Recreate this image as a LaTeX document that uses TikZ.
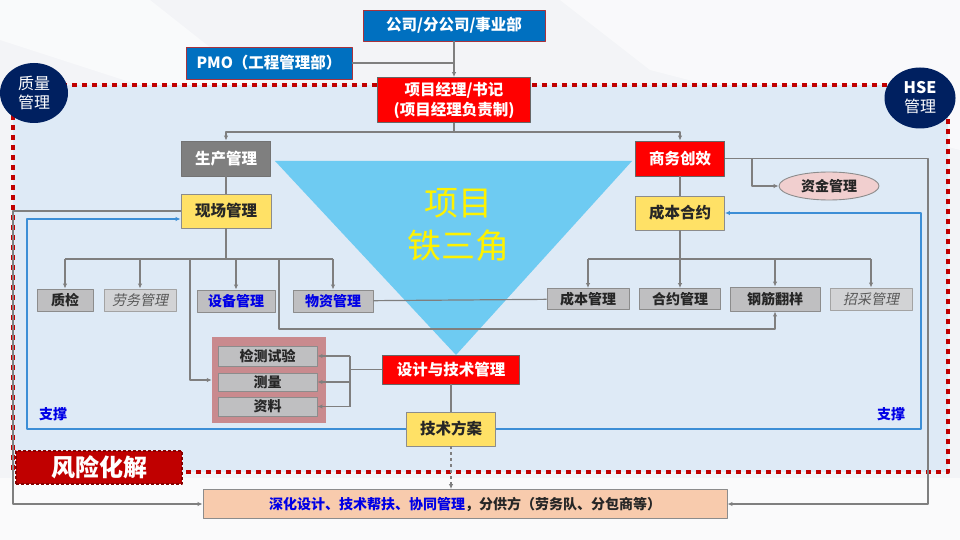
\documentclass[tikz,border=0pt]{standalone}
\usepackage{fontspec}
\setmainfont{Noto Sans CJK SC}[AutoFakeSlant=0.2]
\usetikzlibrary{arrows.meta,shapes.geometric}
\definecolor{pagebg}{HTML}{F3F4F7}
\definecolor{panel}{HTML}{DEEAF6}
\definecolor{riskred}{HTML}{C00000}
\definecolor{corpblue}{HTML}{0070C0}
\definecolor{corprim}{HTML}{A8323C}
\definecolor{hotred}{HTML}{FF0000}
\definecolor{headgrey}{HTML}{7F7F7F}
\definecolor{signal}{HTML}{FFE166}
\definecolor{cell}{HTML}{BFBFC1}
\definecolor{softcell}{HTML}{D2D3D5}
\definecolor{rim}{HTML}{8C8C8C}
\definecolor{wire}{HTML}{7F7F7F}
\definecolor{frame}{HTML}{3C8ED6}
\definecolor{ink}{HTML}{262626}
\definecolor{navy}{HTML}{002060}
\definecolor{wedge}{HTML}{6ECBF2}
\definecolor{rose}{HTML}{C98A8E}
\definecolor{blush}{HTML}{F1CFCF}
\definecolor{peach}{HTML}{F8CBAD}
\definecolor{txtblue}{HTML}{0000E6}
\begin{document}
\begin{tikzpicture}[x=1pt,y=-1pt,line join=round,
  box/.style={inner sep=0pt,align=center,line width=.9pt,text=ink,
    font=\fontsize{14}{17}\selectfont\bfseries},
  corp/.style={box,fill=corpblue,draw=corprim,text=white,font=\fontsize{15.5}{18}\selectfont\bfseries},
  alarm/.style={box,fill=hotred,draw=black!60,text=white,font=\fontsize{15.5}{20}\selectfont\bfseries},
  head/.style={box,fill=headgrey,draw=black!55,text=white,font=\fontsize{15.5}{18}\selectfont\bfseries},
  key/.style={box,fill=signal,draw=rim,font=\fontsize{15.5}{18}\selectfont\bfseries},
  cellbox/.style={box,fill=cell,draw=rim},
  soft/.style={box,fill=softcell,draw=rim!80,text=black!65,font=\fontsize{14}{17}\selectfont\itshape},
  badge/.style={ellipse,inner sep=0pt,fill=navy,text=white,align=center,font=\fontsize{16}{19}\selectfont},
  link/.style={draw=wire,line width=1.2pt},
  arr/.style={link,-{Latex[length=5pt,width=4.5pt]}},
  barr/.style={draw=frame,line width=1.2pt,-{Latex[length=5pt,width=4.5pt]}}]
  % page and panel
  \fill[pagebg] (0,0) rectangle (960,540);
  \fill[white,opacity=.55] (0,0) -- (150,0) -- (340,150) -- (0,40) -- cycle;
  \fill[white,opacity=.5] (560,0) -- (960,0) -- (960,150) -- (650,70) -- cycle;
  \fill[white,opacity=.6] (0,478) -- (960,478) -- (960,540) -- (0,540) -- cycle;
  \fill[panel] (13,85) rectangle (948,472);
  \fill[wedge] (275,161) -- (632,161) -- (456,355) -- cycle;
  \draw[riskred,line width=4.5pt,dash pattern=on 5pt off 5pt] (13,85) rectangle (948,472);
  % top
  \node[corp,minimum width=182,minimum height=31] (co) at (454,25.5) {公司/分公司/事业部};
  \node[corp,minimum width=166,minimum height=32] (pmo) at (269,63) {PMO（工程管理部）};
  \node[alarm,minimum width=153,minimum height=45] (pm) at (454,100) {项目经理/书记\\(项目经理负责制)};
  \node[head,minimum width=89,minimum height=35] (prod) at (226,158.5) {生产管理};
  \node[alarm,minimum width=89,minimum height=35] (biz) at (680,158.5) {商务创效};
  \node[key,minimum width=90,minimum height=34] (site) at (226,211) {现场管理};
  \node[key,minimum width=89,minimum height=34] (cost) at (680,213) {成本合约};
  \node[box,ellipse,fill=blush,draw=rim,minimum width=100,minimum height=28] (fund) at (829,186) {资金管理};
  % left row
  \node[cellbox,minimum width=56,minimum height=22] (qc) at (65,300) {质检};
  \node[soft,minimum width=72,minimum height=22] (lab) at (140,300) {劳务管理};
  \node[cellbox,text=txtblue,minimum width=78,minimum height=22] (eq) at (236,301) {设备管理};
  \node[cellbox,text=txtblue,minimum width=80,minimum height=22] (mat) at (333,301) {物资管理};
  % right row
  \node[cellbox,minimum width=82,minimum height=21] (cm) at (588,299) {成本管理};
  \node[cellbox,minimum width=81,minimum height=21] (ct) at (680,299) {合约管理};
  \node[cellbox,minimum width=90,minimum height=24] (reb) at (775,299) {钢筋翻样};
  \node[soft,minimum width=82,minimum height=22] (buy) at (871,299) {招采管理};
  % design
  \node[alarm,minimum width=137,minimum height=29] (tech) at (451,369.5) {设计与技术管理};
  \node[key,minimum width=89,minimum height=34] (plan) at (451,429) {技术方案};
  \node[fill=rose,inner sep=0pt,minimum width=114,minimum height=86] (grp) at (269,380) {};
  \node[cellbox,minimum width=99,minimum height=20] (test) at (267.5,356) {检测试验};
  \node[cellbox,minimum width=99,minimum height=18] (srv) at (267.5,382) {测量};
  \node[cellbox,minimum width=99,minimum height=19] (doc) at (267.5,406.5) {资料};
  % bottom
  \node[box,fill=peach,draw=rim,minimum width=524,minimum height=29] (sub) at (465,504)
    {\textcolor{txtblue}{深化设计、技术帮扶、协同管理}，分供方（劳务队、分包商等）};
  \node[box,fill=riskred,draw=riskred!70!black,dash pattern=on 3pt off 2pt,line width=2.5pt,
    text=white,font=\fontsize{24}{28}\selectfont\bfseries,minimum width=166,minimum height=33] (risk) at (99,467.5) {风险化解};
  \node[badge,minimum width=68,minimum height=60] (qm) at (34,93) {质量\\管理};
  \node[badge,minimum width=71,minimum height=61] (hse) at (920,98) {\textbf{HSE}\\管理};
  \node[text=yellow,align=center,font=\fontsize{34}{43}\selectfont] (core) at (458,225) {项目\\铁三角};
  \node[text=txtblue,font=\fontsize{14}{17}\selectfont\bfseries] (propl) at (53,414) {支撑};
  \node[text=txtblue,font=\fontsize{14}{17}\selectfont\bfseries] (propr) at (891,414) {支撑};
  % connectors
  \coordinate (pmfork) at (454,132);
  \coordinate (fk) at (752,158.5);
  \coordinate (rdrop) at (928,504);
  \coordinate (ldrop) at (13,504);
  \coordinate (bl) at (27,429);
  \coordinate (br) at (921,429);
  \coordinate (sfork) at (226,259);
  \coordinate (gk) at (190,259);
  \coordinate (rk) at (279,259);
  \coordinate (rlow) at (279,329);
  \coordinate (cfork) at (680,259);
  \coordinate (tk) at (350,369.5);
  \draw[arr] (co) -- (pm);
  \draw[link] (pmo) -- (pmo -| co);
  \draw[link] (pm) -- (pmfork);
  \draw[arr] (pmfork) -| (prod);
  \draw[arr] (pmfork) -| (biz);
  \draw[link] (prod) -- (site);
  \draw[link] (biz) -- (cost);
  \draw[arr] (biz.east) -| (rdrop) -- (sub.east);
  \draw[arr] (fk) |- (fund);
  \draw[arr] (site.west) -| (ldrop) -- (sub.west);
  \draw[barr] (plan.west) -- (bl) |- ([yshift=-8pt]site.west);
  \draw[barr] (plan.east) -- (br) |- (cost.east);
  \draw[arr,dashed] (plan) -- (plan |- sub.north);
  \draw[link] (site) -- (sfork);
  \draw[link] (qc.north |- sfork) -- (mat.north |- sfork);
  \foreach \n in {qc,lab,eq,mat} \draw[arr] (\n.north |- sfork) -- (\n);
  \draw[arr] (gk) |- (grp);
  \draw[arr] (rk) -- (rlow) -| (reb);
  \draw[link] (mat) -- (cm);
  \draw[link] (cost) -- (cfork);
  \draw[link] (cm.north |- cfork) -- (buy.north |- cfork);
  \foreach \n in {cm,ct,reb,buy} \draw[arr] (\n.north |- cfork) -- (\n);
  \draw[link] (tech) -- (tk);
  \draw[link] (tk |- test) -- (tk |- doc);
  \foreach \n in {test,srv,doc} \draw[arr] (tk |- \n) -- (\n);
  \draw[link] (tech) -- (plan);
\end{tikzpicture}
\end{document}
